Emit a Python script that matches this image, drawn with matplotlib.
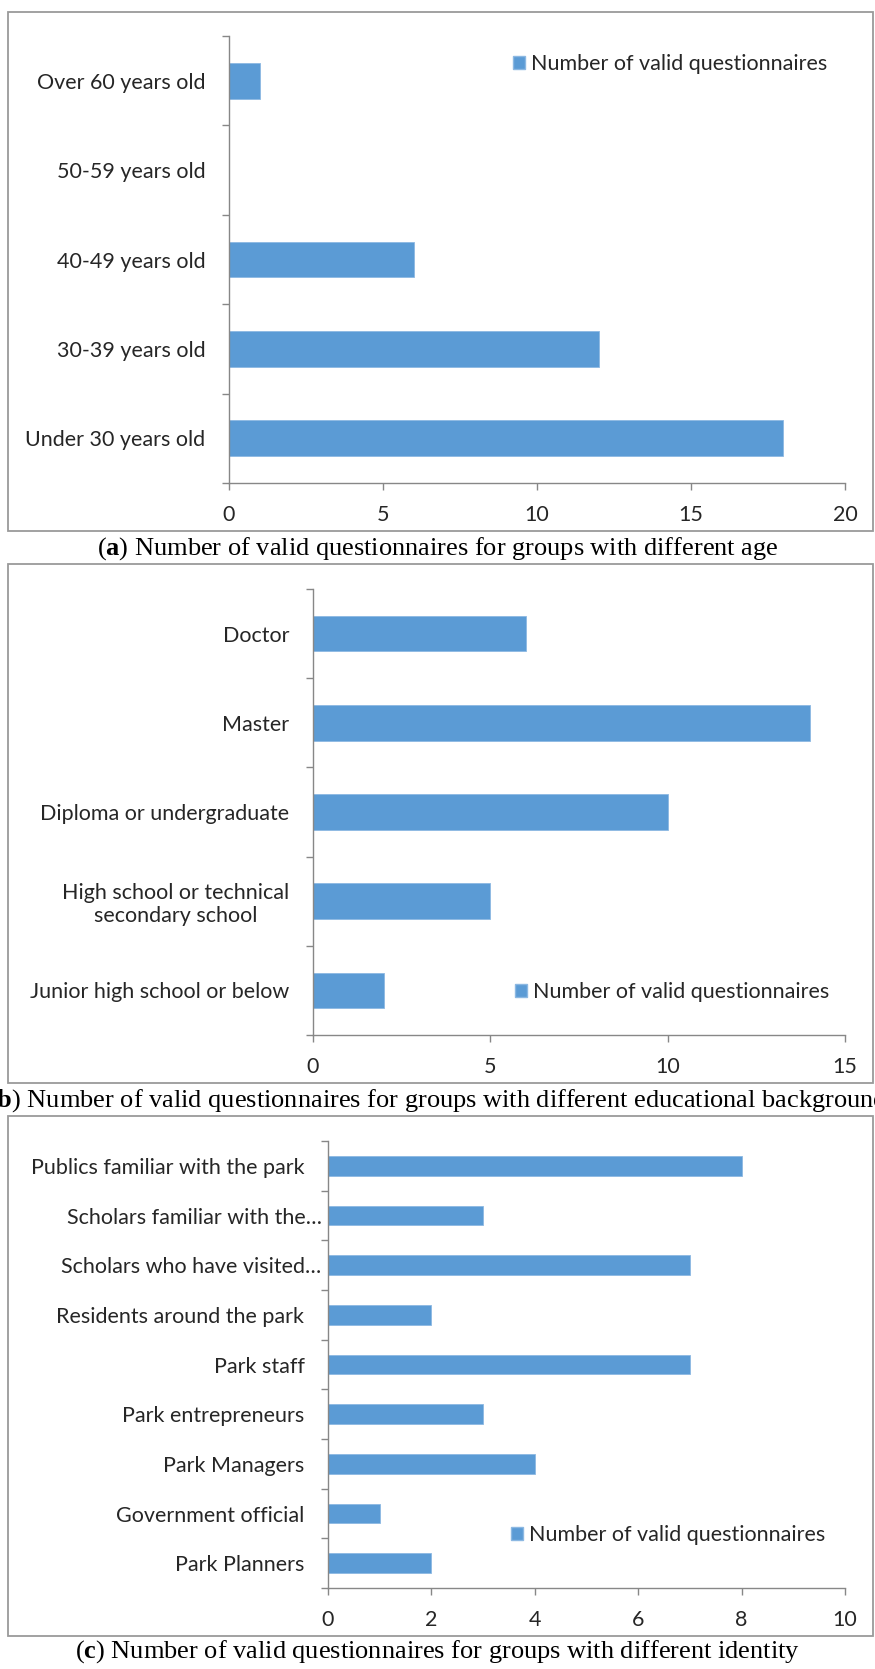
import matplotlib
matplotlib.use("Agg")
import matplotlib.pyplot as plt
from matplotlib.patches import Rectangle, Patch
from matplotlib.transforms import ScaledTranslation

plt.rcParams['font.family'] = ['Lato', 'DejaVu Sans']
plt.rcParams['mathtext.fontset'] = 'custom'
plt.rcParams['mathtext.rm'] = 'Liberation Serif'
plt.rcParams['mathtext.bf'] = 'Liberation Serif:bold'

# data (bottom to top as drawn)
age_labels = ["Under 30 years old", "30-39 years old", "40-49 years old",
              "50-59 years old", "Over 60 years old"]
age_values = [18, 12, 6, 0, 1]

edu_labels = ["Junior high school or below", "High school or technical\nsecondary school",
              "Diploma or undergraduate", "Master", "Doctor"]
edu_values = [2, 5, 10, 14, 6]

id_labels = ["Park Planners", "Government official", "Park Managers", "Park entrepreneurs",
             "Park staff", "Residents around the park", "Scholars who have visited…",
             "Scholars familiar with the…", "Publics familiar with the park"]
id_values = [2, 1, 4, 3, 7, 2, 7, 3, 8]

x_limits = [20, 15, 10]
x_steps = [5, 5, 2]
legend_label = "Number of valid questionnaires"
captions = ["Number of valid questionnaires for groups with different age",
            "Number of valid questionnaires for groups with different educational background",
            "Number of valid questionnaires for groups with different identity"]
letters = ["a", "b", "c"]

W, H = 875, 1669
BAR = "#5B9BD5"
GREY = "#878787"
TXT = "#262626"
FS = 15.5

fig = plt.figure(figsize=(W / 100, H / 100), dpi=100)


def fx(x):
    return x / W


def fy(y):
    return 1 - y / H


# pixel boxes: axes (left, right, top, bottom), frame (top, bottom), caption y, legend (x, y)
axes_px = [(229, 845, 36, 483), (313, 845, 589, 1035), (328, 845, 1141, 1588)]
frames_px = [(12, 531), (564, 1083), (1116, 1636)]
caption_y = [549, 1101, 1652]
legend_px = [(513, 64), (515, 992), (511, 1535)]

panels = [(age_labels, age_values), (edu_labels, edu_values), (id_labels, id_values)]

for i, (labels, values) in enumerate(panels):
    l, r, t, b = axes_px[i]
    ax = fig.add_axes([fx(l), fy(b), fx(r) - fx(l), fy(t) - fy(b)])
    n = len(labels)
    pos = list(range(n))
    ax.barh(pos, values, height=0.4, color=BAR, edgecolor="#8CB8E2", linewidth=0.6)
    ax.set_xlim(0, x_limits[i])
    ax.set_ylim(-0.5, n - 0.5)
    ax.set_xticks(range(0, x_limits[i] + 1, x_steps[i]))
    ax.set_yticks([k - 0.5 for k in range(n + 1)])
    ax.set_yticklabels([])
    ax.set_yticks(pos, minor=True)
    ax.set_yticklabels(labels, minor=True, ha="right", multialignment="center")
    for s in ["top", "right"]:
        ax.spines[s].set_visible(False)
    for s in ["left", "bottom"]:
        ax.spines[s].set_color(GREY)
        ax.spines[s].set_linewidth(1.0)
    ax.tick_params(axis="y", which="major", length=5, color=GREY, width=1.0)
    ax.tick_params(axis="y", which="minor", length=0, pad=17, labelsize=FS, labelcolor=TXT)
    ax.tick_params(axis="x", length=5, color=GREY, width=1.0, pad=11,
                   labelsize=FS, labelcolor=TXT)
    for lab in ax.get_yticklabels(minor=True):
        if lab.get_text().endswith("…"):
            lab.set_transform(lab.get_transform() + ScaledTranslation(17 / 100, 0, fig.dpi_scale_trans))

    lx, ly = legend_px[i]
    ax.legend(handles=[Patch(facecolor=BAR, edgecolor="#8CB8E2", label=legend_label)],
              loc="center left", bbox_to_anchor=(fx(lx), fy(ly)), bbox_transform=fig.transFigure,
              frameon=False, fontsize=FS, handlelength=0.55, handleheight=0.55,
              handletextpad=0.3, borderpad=0, borderaxespad=0, labelcolor=TXT)

    ft, fb = frames_px[i]
    fig.patches.append(Rectangle((fx(8), fy(fb)), fx(873) - fx(8), fy(ft) - fy(fb),
                                 transform=fig.transFigure, fill=False,
                                 edgecolor="#9a9a9a", linewidth=1.3))

    fig.text(0.5, fy(caption_y[i]), "(" + r"$\mathbf{" + letters[i] + "}$" + ") " + captions[i],
             ha="center", va="center", fontsize=19, family="Liberation Serif", color="black")

fig.savefig("out.png", dpi=100)
